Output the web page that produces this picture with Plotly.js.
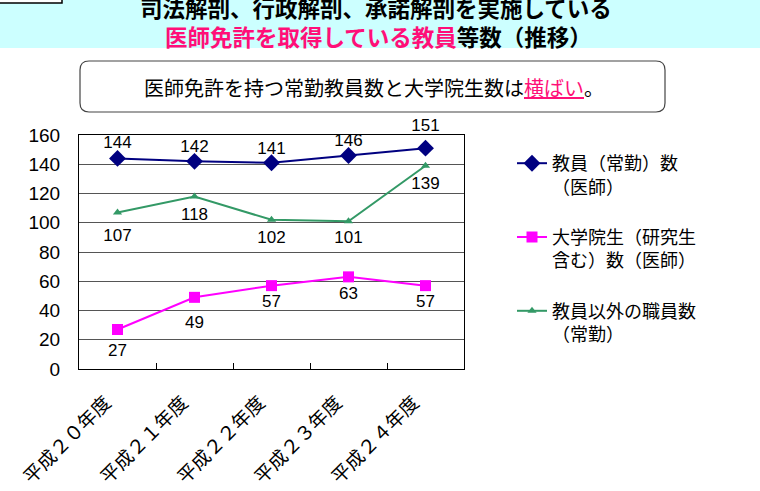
<!DOCTYPE html>
<html>
<head>
<meta charset="utf-8">
<script src="https://cdn.plot.ly/plotly-3.0.1.min.js"></script>
<style>html,body{margin:0;padding:0;background:#fff;}#chart{width:760px;height:491px;}</style>
</head>
<body>
<div id="chart"></div>
<script>
// ---- data ----
const categories = ['平成２０年度', '平成２１年度', '平成２２年度', '平成２３年度', '平成２４年度'];
const facultyDoctors = [144, 142, 141, 146, 151];
const gradStudentsDoctors = [27, 49, 57, 63, 57];
const nonFacultyStaff = [107, 118, 102, 101, 139];
const seriesNames = ['教員（常勤）数<br>（医師）', '大学院生（研究生<br>含む）数（医師）', '教員以外の職員数<br>（常勤）'];
const yTicks = [0, 20, 40, 60, 80, 100, 120, 140, 160];
const titleLine1 = '司法解剖、行政解剖、承諾解剖を実施している';
const titleLine2a = '医師免許を取得している教員';
const titleLine2b = '等数（推移）';
const noteA = '医師免許を持つ常勤教員数と大学院生数は';
const noteB = '横ばい';
const noteC = '。';

// ---- layout helpers (pixel -> paper) ----
const L = 79, R = 464, T = 135, B = 369;
const px = p => (p - L) / (R - L);
const py = p => (B - p) / (B - T);

const jp = '"Noto Sans CJK JP", "Noto Sans", sans-serif';
const lat = '"Liberation Sans", Arial, sans-serif';

function roundRect(x0, y0, x1, y1, r) {
  const rx = r / (R - L), ry = r / (B - T);
  const a = px(x0), b = px(x1), c = py(y0), d = py(y1);
  return `M ${a + rx},${c} L ${b - rx},${c} Q ${b},${c} ${b},${c - ry} L ${b},${d + ry} Q ${b},${d} ${b - rx},${d} L ${a + rx},${d} Q ${a},${d} ${a},${d + ry} L ${a},${c - ry} Q ${a},${c} ${a + rx},${c} Z`;
}

const labelFont = {family: lat, size: 17, color: '#000'};

function lineTrace(y, name, group, color, symbol, size) {
  return {
    x: categories, y: y, name: name, legendgroup: group,
    type: 'scatter', mode: 'lines+markers',
    line: {color: color, width: 2},
    marker: {symbol: symbol, size: size, color: color},
    cliponaxis: false
  };
}
// invisible-marker text traces: the (hidden) marker size only sets the label gap
function labelTrace(y, pos, gap) {
  return {
    x: categories, y: y, type: 'scatter', mode: 'markers+text',
    text: y.map(String), textposition: pos, textfont: labelFont,
    marker: {size: gap, opacity: 0, color: '#fff'},
    showlegend: false, hoverinfo: 'skip', cliponaxis: false
  };
}

const traces = [
  lineTrace(facultyDoctors, seriesNames[0], 'g1', '#000080', 'diamond', 13),
  lineTrace(gradStudentsDoctors, seriesNames[1], 'g2', '#FF00FF', 'square', 11),
  lineTrace(nonFacultyStaff, seriesNames[2], 'g3', '#339966', 'triangle-up', 8),
  labelTrace(facultyDoctors, 'top center', [8, 6, 6, 6, 19]),
  labelTrace(gradStudentsDoctors, 'bottom center', [21, 27, 12, 13, 12]),
  labelTrace(nonFacultyStaff, 'bottom center', [24, 15, 15, 13, 15])
];

const layout = {
  width: 760, height: 491,
  margin: {l: L, r: 760 - R, t: T, b: 491 - B, pad: 0},
  paper_bgcolor: '#fff', plot_bgcolor: '#fff',
  showlegend: true,
  legend: {
    x: px(512), xanchor: 'left', y: py(145), yanchor: 'top',
    font: {family: jp, size: 18, color: '#000'},
    valign: 'top', tracegroupgap: 24, itemwidth: 30,
    bgcolor: 'rgba(0,0,0,0)'
  },
  xaxis: {
    type: 'category', range: [-0.5, 4.5],
    showline: true, linecolor: '#000', linewidth: 1, mirror: true,
    ticks: 'inside', tickson: 'boundaries', ticklen: 6, tickcolor: '#000',
    showgrid: false,
    tickangle: -45, tickfont: {family: jp, size: 19, color: '#000'},
    ticklabelstandoff: 14, ticklabelshift: -12,
    fixedrange: true
  },
  yaxis: {
    range: [0, 160], tickvals: yTicks, ticktext: yTicks.map(String),
    showline: true, linecolor: '#000', linewidth: 1, mirror: true,
    showgrid: true, gridcolor: '#555', gridwidth: 1,
    zeroline: false,
    ticks: 'outside', ticklen: 14, tickcolor: 'rgba(0,0,0,0)',
    tickfont: {family: lat, size: 19, color: '#000'},
    fixedrange: true
  },
  shapes: [
    {type: 'rect', xref: 'paper', yref: 'paper', x0: px(-5), x1: px(770), y0: py(48), y1: py(-5),
     fillcolor: '#CCFFFF', line: {width: 0}, layer: 'below'},
    {type: 'rect', xref: 'paper', yref: 'paper', x0: px(-2), x1: px(62), y0: py(3), y1: py(-5),
     fillcolor: '#fff', line: {color: '#000', width: 1.5}},
    {type: 'path', xref: 'paper', yref: 'paper', path: roundRect(80, 61, 665, 112, 9),
     fillcolor: '#fff', line: {color: '#444', width: 1.2}}
  ],
  annotations: [
    {xref: 'paper', yref: 'paper', x: px(376), y: py(7), xanchor: 'center', yanchor: 'middle',
     text: '<b>' + titleLine1 + '</b>', showarrow: false,
     font: {family: jp, size: 22.5, color: '#000'}},
    {xref: 'paper', yref: 'paper', x: px(378), y: py(36), xanchor: 'center', yanchor: 'middle',
     text: '<b><span style="color:#FF0F78">' + titleLine2a + '</span>' + titleLine2b + '</b>', showarrow: false,
     font: {family: jp, size: 22.5, color: '#000'}},
    {xref: 'paper', yref: 'paper', x: px(374), y: py(87), xanchor: 'center', yanchor: 'middle',
     text: noteA + '<span style="color:#FF0F78"><u>' + noteB + '</u></span>' + noteC, showarrow: false,
     font: {family: jp, size: 20, color: '#000'}}
  ]
};

Plotly.newPlot('chart', traces, layout, {staticPlot: true, displayModeBar: false});
</script>
</body>
</html>
